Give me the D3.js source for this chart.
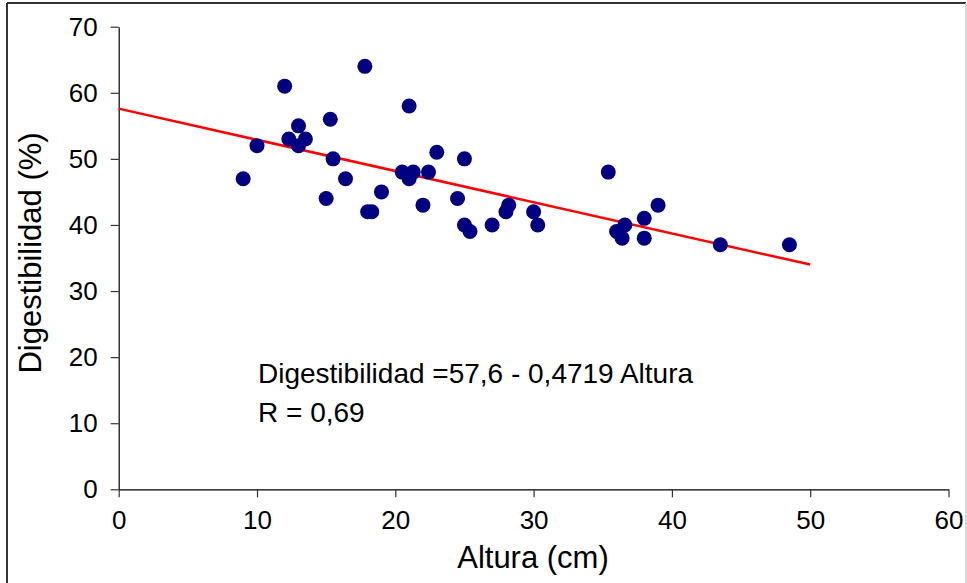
<!DOCTYPE html>
<html>
<head>
<meta charset="utf-8">
<script src="https://cdn.jsdelivr.net/npm/d3@7"></script>
<style>
  body{margin:0;background:#fff;}
  svg text{font-family:"Liberation Sans",Arial,sans-serif;fill:#000;}
</style>
</head>
<body>
<svg id="chart" width="967" height="583"></svg>
<script>
'use strict';

// Altura (cm) vs Digestibilidad (%)
var altura=[9,10,12,12.3,13,13,13.5,15.3,15.5,15,16.4,17.8,18,18.3,19,
            20.5,21,21,21.3,22,22.4,23,24.5,25,25,25.4,27,28,28.2,30,30.3,
            35.4,36,36.4,36.6,38,38,39,43.5,48.5];
var digest=[47,52,61,53,55,52,53,56,50,44,47,64,42,42,45,
            48,58,47,48,43,48,51,44,50,40,39,40,42,43,42,40,
            48,39,38,40,41,38,43,37,37];

var xTicks=[0,10,20,30,40,50,60];
var yTicks=[0,10,20,30,40,50,60,70];

// recta de regresion
var intercept=57.6, slope=-0.4719, fitRange=[0,50];
var eqLines=['Digestibilidad =57,6 - 0,4719 Altura','R = 0,69'];

var svg=d3.select('#chart');

// marco
svg.append('line').attr('x1',7).attr('y1',3).attr('x2',966).attr('y2',3)
    .attr('stroke','#333').attr('stroke-width',2);
svg.append('line').attr('x1',7).attr('y1',3).attr('x2',7).attr('y2',583)
    .attr('stroke','#333').attr('stroke-width',2);
svg.append('line').attr('x1',966).attr('y1',3).attr('x2',966).attr('y2',583)
    .attr('stroke','#ccc').attr('stroke-width',1.5);

var x=d3.scaleLinear().domain([0,60]).range([118.7,948.5])
  , y=d3.scaleLinear().domain([0,70]).range([489.3,26.7]);

var xAxis=svg.append('g')
    .attr('transform','translate(0,'+y(0)+')')
    .call(d3.axisBottom(x).tickValues(xTicks).tickSize(8).tickSizeOuter(0).tickPadding(8));
var yAxis=svg.append('g')
    .attr('transform','translate('+x(0)+',0)')
    .call(d3.axisLeft(y).tickValues(yTicks).tickSize(8).tickSizeOuter(0).tickPadding(13));

[xAxis,yAxis].forEach(function(g){
    g.select('.domain').attr('stroke','#000').attr('stroke-width',1.2);
    g.selectAll('.tick line').attr('stroke','#333').attr('stroke-width',1.2);
    g.selectAll('.tick text').style('font-size','26px')
        .style('font-family','"Liberation Sans",Arial,sans-serif');
});
xAxis.selectAll('.tick text').attr('dy','0.9em');

// regresion
svg.append('line')
    .attr('x1',x(fitRange[0])).attr('y1',y(intercept+slope*fitRange[0]))
    .attr('x2',x(fitRange[1])).attr('y2',y(intercept+slope*fitRange[1]))
    .attr('stroke','#ff0000').attr('stroke-width',2.5);

// puntos
svg.append('g').selectAll('circle')
    .data(altura.map(function(a,i){return [a,digest[i]];}))
    .enter().append('circle')
    .attr('cx',function(d){return x(d[0]);})
    .attr('cy',function(d){return y(d[1]);})
    .attr('r',7.5)
    .attr('fill','#000080');

// ecuacion
svg.append('g').selectAll('text')
    .data(eqLines)
    .enter().append('text')
    .attr('x',258)
    .attr('y',function(d,i){return 383+i*38.5;})
    .style('font-size','28px')
    .text(function(d){return d;});

// titulos
svg.append('text')
    .attr('x',533).attr('y',567.5)
    .attr('text-anchor','middle')
    .style('font-size','31px')
    .text('Altura (cm)');
svg.append('text')
    .attr('transform','translate(41,253) rotate(-90)')
    .attr('text-anchor','middle')
    .style('font-size','31px')
    .text('Digestibilidad (%)');
</script>
</body>
</html>
